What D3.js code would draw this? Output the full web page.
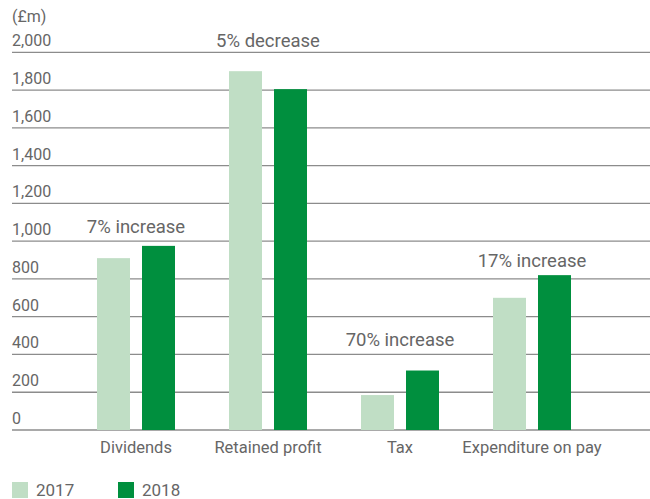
<!DOCTYPE html>
<html>
<head>
<meta charset="utf-8">
<script src="https://cdn.jsdelivr.net/npm/d3@7"></script>
<style>
  body { margin: 0; background: #fff; }
  text { font-family: Roboto, "Liberation Sans", Arial, sans-serif; fill: #666; }
</style>
</head>
<body>
<script>
// chart values
let categories = ["Dividends", "Retained profit", "Tax", "Expenditure on pay"];
let years = ["2017", "2018"];
let values2017 = [910, 1900, 185, 700];
let values2018 = [975, 1805, 315, 820];
let notes = ["7% increase", "5% decrease", "70% increase", "17% increase"];
let noteLevels = [1042, 2026, 444, 864];   // where each note sits, in £m
let yTicks = [0, 200, 400, 600, 800, 1000, 1200, 1400, 1600, 1800, 2000];

let colors = { "2017": "#c0dec5", "2018": "#008f3e" };

let width = 650, height = 499;

let svg = d3.select("body").append("svg")
    .attr("width", width)
    .attr("height", height);

// scales
let x = d3.scaleBand()
    .domain(categories)
    .range([70, 598])
    .paddingInner(54 / 132)
    .paddingOuter(27 / 132);

let x1 = d3.scaleBand()
    .domain(years)
    .range([0, x.bandwidth()])
    .paddingInner(12 / 45);

let y = d3.scaleLinear()
    .domain([0, 2000])
    .range([430, 52.3]);

// gridlines + tick labels
let grid = svg.append("g");
grid.selectAll("line")
    .data(yTicks)
    .enter().append("line")
    .attr("x1", 12)
    .attr("x2", width)
    .attr("y1", d => y(d))
    .attr("y2", d => y(d))
    .attr("stroke", "#8c8c8c")
    .attr("stroke-width", 1.3);

grid.selectAll("text")
    .data(yTicks)
    .enter().append("text")
    .attr("x", 12)
    .attr("y", d => y(d) - 6)
    .style("font-size", "16px")
    .text(d => d3.format(",")(d));

svg.append("text")
    .attr("x", 12)
    .attr("y", 22)
    .style("font-size", "16px")
    .text("(£m)");

// bars
let rows = categories.map((c, i) => ({ cat: c, vals: [
    { year: "2017", v: values2017[i] },
    { year: "2018", v: values2018[i] }
] }));

let group = svg.selectAll(".grp")
    .data(rows)
    .enter().append("g")
    .attr("class", "grp")
    .attr("transform", d => "translate(" + x(d.cat) + ",0)");

group.selectAll("rect")
    .data(d => d.vals)
    .enter().append("rect")
    .attr("x", d => x1(d.year))
    .attr("width", x1.bandwidth())
    .attr("y", d => y(d.v))
    .attr("height", d => y(0) - y(d.v))
    .attr("fill", d => colors[d.year]);

// notes above bars
svg.selectAll(".note")
    .data(categories)
    .enter().append("text")
    .attr("class", "note")
    .attr("x", d => x(d) + x.bandwidth() / 2)
    .attr("y", (d, i) => y(noteLevels[i]))
    .attr("text-anchor", "middle")
    .style("font-size", "18.5px")
    .text((d, i) => notes[i]);

// category axis labels
svg.selectAll(".cat")
    .data(categories)
    .enter().append("text")
    .attr("class", "cat")
    .attr("x", d => x(d) + x.bandwidth() / 2)
    .attr("y", 453)
    .attr("text-anchor", "middle")
    .style("font-size", "16.5px")
    .text(d => d);

// legend
let legend = svg.selectAll(".legend")
    .data(years)
    .enter().append("g")
    .attr("class", "legend")
    .attr("transform", (d, i) => "translate(" + (12 + i * 106) + ",482)");

legend.append("rect")
    .attr("width", 16)
    .attr("height", 16)
    .attr("fill", d => colors[d]);

legend.append("text")
    .attr("x", 24)
    .attr("y", 14)
    .style("font-size", "17px")
    .text(d => d);
</script>
</body>
</html>
